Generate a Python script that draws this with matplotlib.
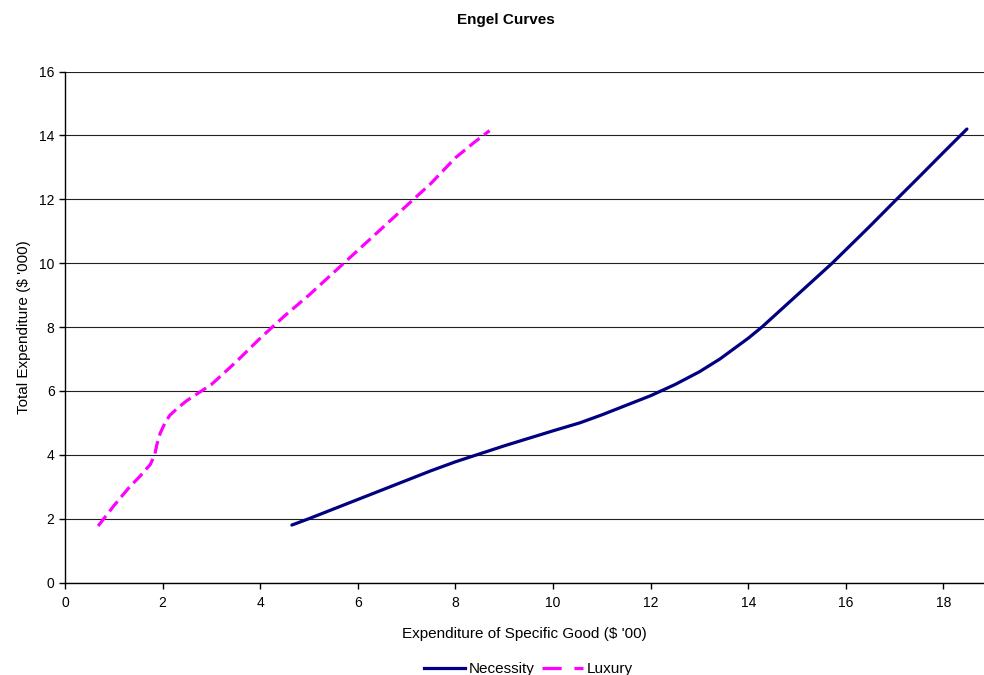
import matplotlib
matplotlib.use("Agg")
import matplotlib.pyplot as plt
from matplotlib.lines import Line2D

plt.rcParams["font.family"] = ["Liberation Sans", "DejaVu Sans"]

# Necessity curve: (spending on good, total expenditure)
necessity_x = [4.65, 5.0, 6.0, 7.0, 7.5, 8.0, 8.44, 9.0, 10.0, 10.55, 11.0, 12.0,
               12.5, 13.0, 13.42, 14.0, 14.28, 15.0, 15.72, 16.0, 16.5, 17.0,
               17.5, 18.0, 18.48]
necessity_y = [1.8, 2.0, 2.6, 3.2, 3.5, 3.78, 4.0, 4.28, 4.75, 5.0, 5.25, 5.85,
               6.2, 6.6, 7.0, 7.65, 8.0, 9.0, 10.0, 10.42, 11.17, 11.94,
               12.7, 13.47, 14.2]

# Luxury curve
luxury_x = [0.68, 1.0, 1.3, 1.55, 1.75, 1.84, 1.88, 1.95, 2.05, 2.15, 2.3,
            2.5, 3.0, 3.5, 4.0, 4.5, 5.0, 5.5, 6.0, 6.5, 7.0, 7.5, 8.0, 8.4, 8.7]
luxury_y = [1.77, 2.4, 2.95, 3.35, 3.7, 4.0, 4.3, 4.67, 5.0, 5.24, 5.45,
            5.7, 6.2, 6.9, 7.65, 8.35, 9.0, 9.7, 10.4, 11.1, 11.8, 12.5, 13.3,
            13.8, 14.15]

x_ticks = list(range(0, 20, 2))
y_ticks = list(range(0, 18, 2))

navy = "#000080"
magenta = "#FF00FF"

fig = plt.figure(figsize=(9.84, 6.75), dpi=100)
ax = fig.add_axes([0.066, 0.137, 0.934, 0.757])

ax.plot(necessity_x, necessity_y, color=navy, lw=2.3, solid_capstyle="round")
ax.plot(luxury_x, luxury_y, color=magenta, lw=2.3, dashes=(4, 1.8))

ax.set_xlim(0, 18.83)
ax.set_ylim(0, 16)
ax.set_xticks(x_ticks)
ax.set_yticks(y_ticks)
ax.tick_params(direction="out", length=4, width=1, labelsize=10, colors="black")
ax.tick_params(axis="x", pad=6)
ax.yaxis.grid(True, color="#202020", lw=0.8)
ax.set_axisbelow(True)
for s in ["top", "right"]:
    ax.spines[s].set_visible(False)
for s in ["left", "bottom"]:
    ax.spines[s].set_linewidth(1)

ax.set_xlabel("Expenditure of Specific Good ($ '00)", fontsize=11, labelpad=12)
ax.set_ylabel("Total Expenditure ($ '000)", fontsize=11, labelpad=6)
fig.text(0.514, 0.970, "Engel Curves", ha="center", va="center",
         fontsize=11, fontweight="bold")

handles = [Line2D([], [], color=navy, lw=2.3),
           Line2D([], [], color=magenta, lw=2.3, dashes=(6, 4))]
fig.legend(handles, ["Necessity", "Luxury"], loc="center",
           bbox_to_anchor=(0.537, 0.009), ncol=2, frameon=False,
           fontsize=11, handlelength=2.7, handletextpad=0.25, columnspacing=0.5)

fig.savefig("out.png", dpi=100)
